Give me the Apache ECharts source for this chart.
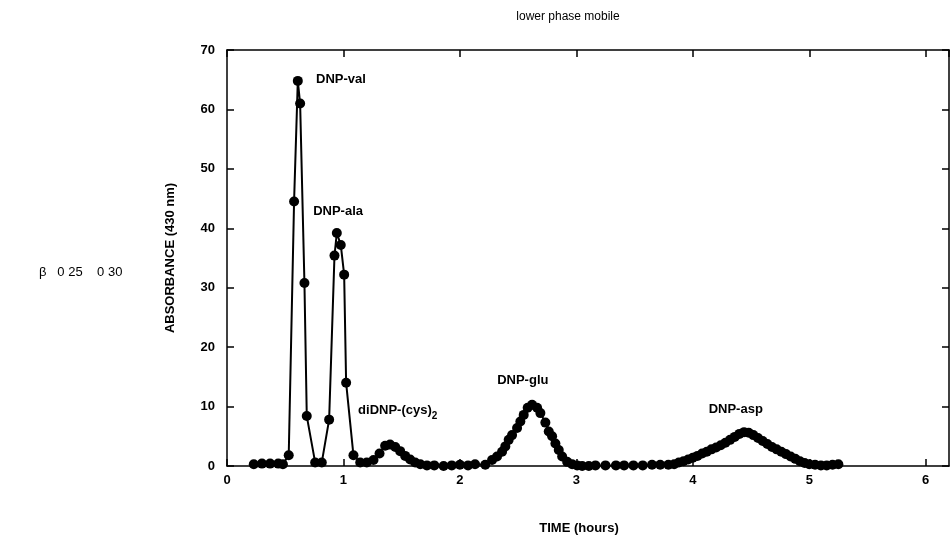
<!DOCTYPE html>
<html>
<head>
<meta charset="utf-8">
<script src="https://cdn.jsdelivr.net/npm/echarts@6/dist/echarts.min.js"></script>
<style>html,body{margin:0;padding:0;background:#fff}#c{width:952px;height:539px}</style>
</head>
<body>
<div id="c"></div>
<script>
// time (hours)
const timeHours = [0.23,0.30,0.37,0.44,0.48,0.53,0.576,0.608,0.628,0.665,0.685,0.757,0.814,0.877,0.923,0.943,0.977,1.006,1.023,1.086,1.144,1.20,1.258,1.31,1.358,1.40,1.445,1.487,1.53,1.573,1.616,1.66,1.717,1.78,1.86,1.93,2.0,2.07,2.13,2.218,2.276,2.319,2.362,2.39,2.419,2.448,2.491,2.519,2.548,2.582,2.62,2.663,2.691,2.734,2.763,2.792,2.82,2.849,2.878,2.921,2.964,3.007,3.05,3.107,3.164,3.25,3.34,3.41,3.49,3.57,3.65,3.72,3.79,3.84,3.88,3.92,3.96,4.0,4.04,4.08,4.12,4.16,4.2,4.24,4.28,4.32,4.36,4.40,4.44,4.48,4.52,4.56,4.60,4.64,4.68,4.72,4.76,4.80,4.84,4.88,4.92,4.96,5.0,5.05,5.1,5.15,5.2,5.25];
// absorbance (430 nm)
const absorbance = [0.3,0.4,0.4,0.4,0.3,1.8,44.5,64.8,61.0,30.8,8.4,0.6,0.6,7.8,35.4,39.2,37.2,32.2,14.0,1.8,0.6,0.6,1.0,2.1,3.4,3.6,3.2,2.5,1.7,1.1,0.6,0.3,0.1,0.1,0.0,0.1,0.2,0.1,0.3,0.2,1.0,1.6,2.4,3.3,4.4,5.2,6.4,7.5,8.6,9.8,10.3,9.8,8.9,7.3,5.8,5.0,3.8,2.7,1.6,0.7,0.3,0.1,0.0,0.0,0.1,0.1,0.1,0.1,0.1,0.1,0.2,0.2,0.2,0.3,0.6,0.8,1.1,1.4,1.7,2.1,2.4,2.8,3.1,3.5,3.9,4.4,4.9,5.4,5.7,5.6,5.2,4.7,4.2,3.7,3.2,2.8,2.4,2.0,1.6,1.2,0.8,0.5,0.3,0.2,0.1,0.1,0.2,0.3];
// peak annotations: anchor time, anchor absorbance, text
const peakNames = ['DNP-val','DNP-ala','diDNP-(cys){s|2}','DNP-glu','DNP-asp'];
const peakTime = [0.765,0.74,1.126,2.32,4.136];
const peakAbs = [65.1,42.8,9.3,14.4,9.5];
const xTicks = [0,1,2,3,4,5,6];
const yTicks = [0,10,20,30,40,50,60,70];

const chart = echarts.init(document.getElementById('c'), null, {renderer:'canvas'});
const fontFam = '"Liberation Sans", Arial, sans-serif';
const axisCommon = {
  axisLine:{show:true,onZero:false,lineStyle:{color:'#000',width:1.5}},
  axisTick:{show:true,inside:true,length:7,lineStyle:{color:'#000',width:1.5}},
  splitLine:{show:false}
};
chart.setOption({
  animation:false,
  backgroundColor:'#fff',
  title:[
    {text:'lower phase mobile',left:563,top:6,textAlign:'center',textStyle:{fontFamily:fontFam,fontSize:12,fontWeight:'normal',color:'#000'}},
    {text:'β   0 25    0 30',left:34,top:261,textStyle:{fontFamily:fontFam,fontSize:13,fontWeight:'normal',color:'#000'}},
    {text:'TIME (hours)',left:574,top:517,textAlign:'center',textStyle:{fontFamily:fontFam,fontSize:13,fontWeight:'bold',color:'#000'}}
  ],
  grid:{left:227,right:3,top:50,bottom:73},
  xAxis:[
    Object.assign({type:'value',min:0,max:6.2,interval:1,position:'bottom',
      axisLabel:{showMaxLabel:false,margin:8,fontFamily:fontFam,fontSize:13,fontWeight:'bold',color:'#000',
        formatter:v=>xTicks.includes(v)?String(v):''}},axisCommon),
    Object.assign({type:'value',min:0,max:6.2,interval:1,position:'top',axisLabel:{show:false}},axisCommon)
  ],
  yAxis:[
    Object.assign({type:'value',min:0,max:70,interval:10,position:'left',
      name:'ABSORBANCE (430 nm)',nameLocation:'middle',nameGap:50,nameRotate:90,
      nameTextStyle:{fontFamily:fontFam,fontSize:13,fontWeight:'bold',color:'#000'},
      axisLabel:{margin:12,fontFamily:fontFam,fontSize:13,fontWeight:'bold',color:'#000',
        formatter:v=>yTicks.includes(v)?String(v):''}},axisCommon),
    Object.assign({type:'value',min:0,max:70,interval:10,position:'right',axisLabel:{show:false}},axisCommon)
  ],
  series:[
    {type:'line',xAxisIndex:0,yAxisIndex:0,data:timeHours.map((t,i)=>[t,absorbance[i]]),
      symbol:'circle',symbolSize:10,showAllSymbol:true,
      lineStyle:{color:'#000',width:2},itemStyle:{color:'#000'}},
    {type:'scatter',xAxisIndex:0,yAxisIndex:0,symbolSize:0,silent:true,
      data:peakNames.map((n,i)=>({value:[peakTime[i],peakAbs[i]],name:n})),
      label:{show:true,position:'right',distance:0,formatter:p=>p.name,
        fontFamily:fontFam,fontSize:13,fontWeight:'bold',color:'#000',opacity:1,
        rich:{s:{fontFamily:fontFam,fontSize:10,fontWeight:'bold',color:'#000',padding:[12,0,0,0]}}}}
  ]
});
</script>
</body>
</html>
